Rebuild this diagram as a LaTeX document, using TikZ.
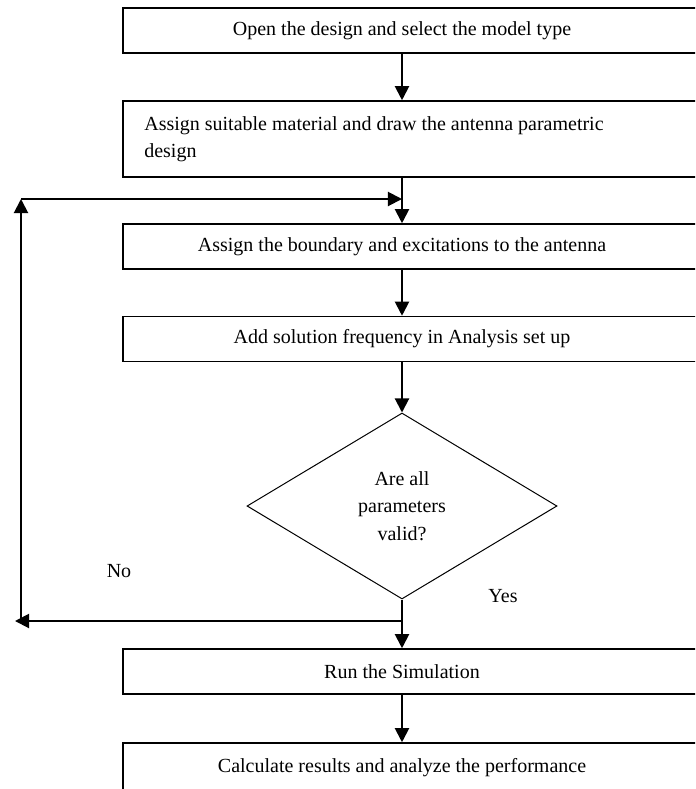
\documentclass[tikz,border=0pt]{standalone}
\usepackage{fontspec}
\setmainfont{Liberation Serif}
\usetikzlibrary{
  arrows.meta,
  shapes.geometric,
  positioning
}
\tikzset{
  fcbox/.style={draw, line width=0.95pt, minimum width=394.2pt, minimum height=27pt, inner sep=0pt},
  fctext/.style={font=\fontsize{12}{16.5}\selectfont, inner sep=0pt, align=center},
  fcdecision/.style={diamond, draw, line width=0.6pt, minimum width=186pt, minimum height=111.6pt,
    inner sep=0pt, font=\fontsize{12}{16.5}\selectfont, align=center},
  fcflow/.style={-{Triangle[length=8.5pt, width=8.5pt]}, line width=1.2pt},
  fctag/.style={font=\fontsize{12}{14}\selectfont, inner sep=0pt}
}

\begin{document}
\begin{tikzpicture}[x=0.6pt, y=-0.6pt]
  \useasboundingbox (0,0) rectangle (695,789);
  \clip (0,0) rectangle (695,789);
  % process steps
  \node[fcbox] (open) at (451.5,30.5) {};
  \node[fctext] (opentxt) at (402,30.5) {Open the design and select the model type};
  \node[fcbox, minimum height=45.6pt] (assign) at (451.5,139) {};
  \node[fctext, anchor=west, align=left] (assigntxt) at (144,139)
    {Assign suitable material and draw the antenna parametric\\design};
  \node[fcbox] (bound) at (451.5,246.5) {};
  \node[fctext] (boundtxt) at (402,246.5) {Assign the boundary and excitations to the antenna};
  \node[fcbox] (freq) at (451.5,339) {};
  \node[fctext] (freqtxt) at (402,339) {Add solution frequency in Analysis set up};
  \node[fcdecision] (valid) at (402,506) {Are all\\parameters\\valid?};
  \node[fcbox] (run) at (451.5,671.5) {};
  \node[fctext] (runtxt) at (402,671.5) {Run the Simulation};
  \node[fcbox, minimum height=34.2pt] (calc) at (451.5,771.5) {};
  \node[fctext] (calctxt) at (402,768) {Calculate results and analyze the performance};

  % feedback loop
  \coordinate (loopin) at (402,199);
  \coordinate (looptop) at (21,199);
  \coordinate (loopbot) at (21,621);
  \coordinate (nojoin) at (402,621);
  \coordinate (noend) at (15,621);

  \draw[fcflow] (opentxt |- open.south) -- (opentxt |- assign.north);
  \draw[fcflow] (opentxt |- assign.south) -- (opentxt |- bound.north);
  \draw[fcflow] (boundtxt |- bound.south) -- (boundtxt |- freq.north);
  \draw[fcflow] (freqtxt |- freq.south) -- (valid.north);
  \draw[fcflow] (valid.south) -- (runtxt |- run.north);
  \draw[fcflow] (runtxt |- run.south) -- (calctxt |- calc.north);
  \draw[fcflow] (nojoin) -- (noend);
  \draw[fcflow] (loopbot) -- (looptop);
  \draw[fcflow] (looptop) -- (loopin);

  \node[fctag] (notag) at (119,571) {No};
  \node[fctag] (yestag) at (503,596) {Yes};
\end{tikzpicture}
\end{document}
